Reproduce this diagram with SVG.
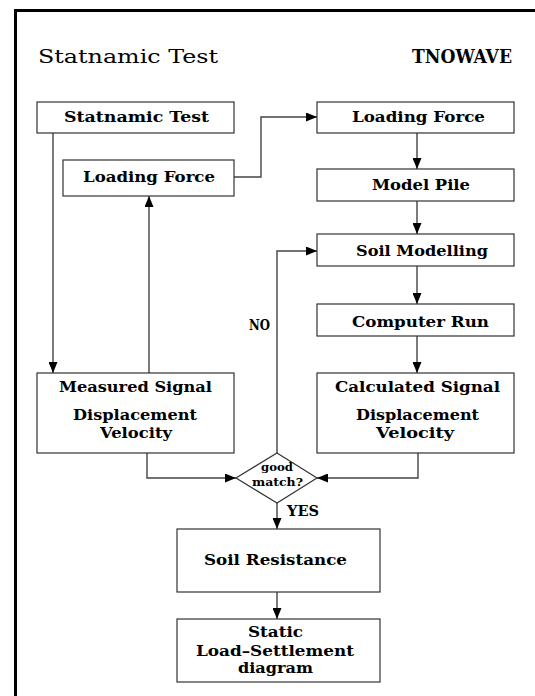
<svg xmlns="http://www.w3.org/2000/svg" width="535" height="696" viewBox="0 0 535 696">
  <style>
    .box { fill: #fff; stroke: #333; stroke-width: 1.2; }
    .wire { fill: none; stroke: #444; stroke-width: 1.4; }
    .lbl { font-family: "DejaVu Serif", "Liberation Serif", serif; font-weight: bold; font-size: 15px; fill: #000; }
    .head { font-family: "DejaVu Serif", "Liberation Serif", serif; font-size: 18px; fill: #000; }
    .small { font-size: 11.5px; }
  </style>
  <defs>
    <marker id="arrow" markerUnits="userSpaceOnUse" markerWidth="11" markerHeight="9" refX="11" refY="4.5" orient="auto">
      <path d="M0,0 L11,4.5 L0,9 z" fill="#000"/>
    </marker>
  </defs>

  <rect width="535" height="696" fill="#fff"/>
  <!-- frame -->
  <path d="M15.5,696 V10.5 H535" fill="none" stroke="#000" stroke-width="3"/>

  <!-- headings -->
  <text class="head" x="38" y="63" textLength="180" lengthAdjust="spacingAndGlyphs">Statnamic Test</text>
  <text class="head" x="412" y="63" font-weight="bold" textLength="100" lengthAdjust="spacingAndGlyphs">TNOWAVE</text>

  <g id="connectors">
    <path class="wire" d="M53,133 V373" marker-end="url(#arrow)"/>
    <path class="wire" d="M149,373 V196" marker-end="url(#arrow)"/>
    <path class="wire" d="M234,177 H261 V117 H317" marker-end="url(#arrow)"/>
    <path class="wire" d="M417,133 V169" marker-end="url(#arrow)"/>
    <path class="wire" d="M417,201 V234" marker-end="url(#arrow)"/>
    <path class="wire" d="M417,266 V304" marker-end="url(#arrow)"/>
    <path class="wire" d="M417,336 V373" marker-end="url(#arrow)"/>
    <path class="wire" d="M147,453 V478 H236" marker-end="url(#arrow)"/>
    <path class="wire" d="M418,453 V478 H317" marker-end="url(#arrow)"/>
    <path class="wire" d="M277,453 V251 H317" marker-end="url(#arrow)"/>
    <path class="wire" d="M277,503 V529" marker-end="url(#arrow)"/>
    <path class="wire" d="M277,592 V619" marker-end="url(#arrow)"/>
    <text class="lbl" x="249" y="330" font-weight="normal" textLength="21" lengthAdjust="spacingAndGlyphs">NO</text>
    <text class="lbl" x="287" y="516" textLength="32" lengthAdjust="spacingAndGlyphs">YES</text>
  </g>

  <g id="statnamic-test">
    <rect class="box" x="37" y="102" width="197" height="31"/>
    <text class="lbl" x="64" y="122" textLength="145" lengthAdjust="spacingAndGlyphs">Statnamic Test</text>
  </g>

  <g id="loading-force-left">
    <rect class="box" x="63" y="160" width="171" height="36"/>
    <text class="lbl" x="83" y="182" textLength="132" lengthAdjust="spacingAndGlyphs">Loading Force</text>
  </g>

  <g id="measured-signal">
    <rect class="box" x="37" y="373" width="197" height="80"/>
    <text class="lbl" x="59" y="392" textLength="153" lengthAdjust="spacingAndGlyphs">Measured Signal</text>
    <text class="lbl" x="73" y="420" textLength="124" lengthAdjust="spacingAndGlyphs">Displacement</text>
    <text class="lbl" x="100" y="438" textLength="72" lengthAdjust="spacingAndGlyphs">Velocity</text>
  </g>

  <g id="loading-force-right">
    <rect class="box" x="317" y="102" width="197" height="31"/>
    <text class="lbl" x="352" y="122" textLength="133" lengthAdjust="spacingAndGlyphs">Loading Force</text>
  </g>

  <g id="model-pile">
    <rect class="box" x="317" y="169" width="197" height="32"/>
    <text class="lbl" x="372" y="190" textLength="98" lengthAdjust="spacingAndGlyphs">Model Pile</text>
  </g>

  <g id="soil-modelling">
    <rect class="box" x="317" y="234" width="197" height="32"/>
    <text class="lbl" x="356" y="256" textLength="132" lengthAdjust="spacingAndGlyphs">Soil Modelling</text>
  </g>

  <g id="computer-run">
    <rect class="box" x="317" y="304" width="197" height="32"/>
    <text class="lbl" x="352" y="327" textLength="137" lengthAdjust="spacingAndGlyphs">Computer Run</text>
  </g>

  <g id="calculated-signal">
    <rect class="box" x="317" y="373" width="197" height="80"/>
    <text class="lbl" x="335" y="392" textLength="165" lengthAdjust="spacingAndGlyphs">Calculated Signal</text>
    <text class="lbl" x="356" y="420" textLength="123" lengthAdjust="spacingAndGlyphs">Displacement</text>
    <text class="lbl" x="376" y="438" textLength="78" lengthAdjust="spacingAndGlyphs">Velocity</text>
  </g>

  <g id="good-match">
    <polygon class="box" points="277,453 317,478 277,503 236,478"/>
    <text class="lbl small" x="261" y="471" textLength="32" lengthAdjust="spacingAndGlyphs">good</text>
    <text class="lbl small" x="252" y="486" textLength="51" lengthAdjust="spacingAndGlyphs">match?</text>
  </g>

  <g id="soil-resistance">
    <rect class="box" x="177" y="529" width="203" height="63"/>
    <text class="lbl" x="204" y="565" textLength="143" lengthAdjust="spacingAndGlyphs">Soil Resistance</text>
  </g>

  <g id="load-settlement">
    <rect class="box" x="177" y="619" width="203" height="63"/>
    <text class="lbl" x="248" y="637" textLength="55" lengthAdjust="spacingAndGlyphs">Static</text>
    <text class="lbl" x="196" y="656" textLength="158" lengthAdjust="spacingAndGlyphs">Load–Settlement</text>
    <text class="lbl" x="238" y="673" textLength="75" lengthAdjust="spacingAndGlyphs">diagram</text>
  </g>
</svg>
